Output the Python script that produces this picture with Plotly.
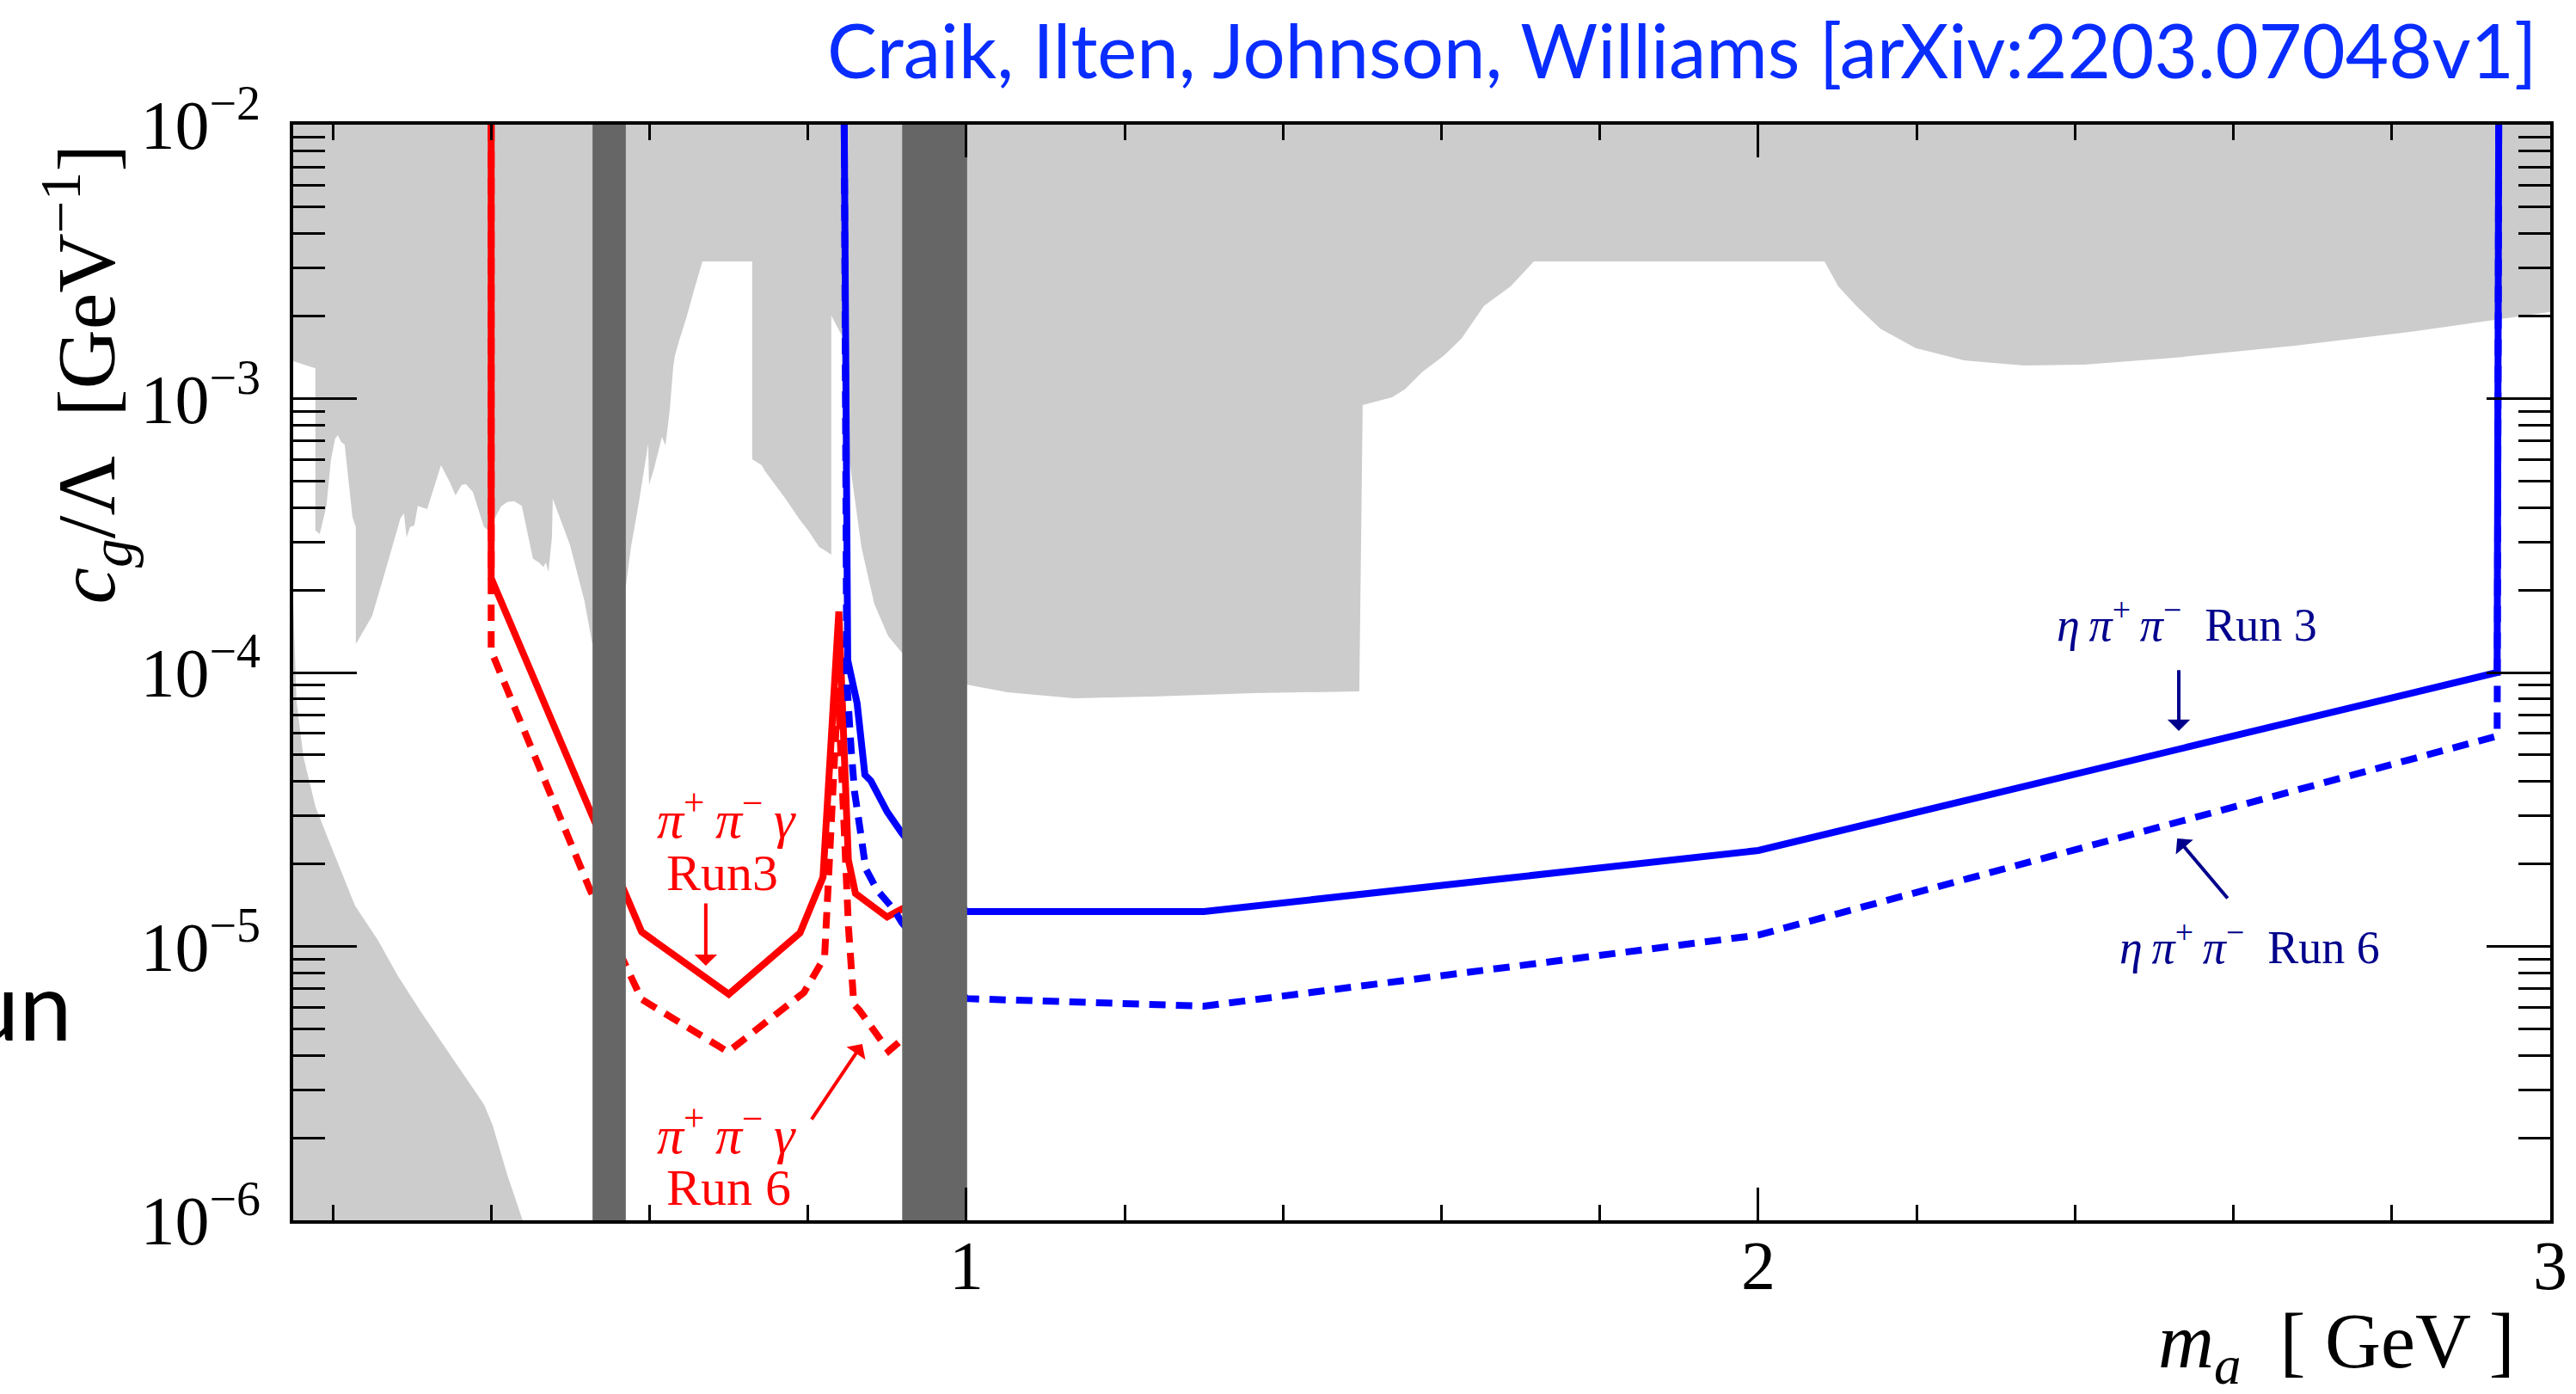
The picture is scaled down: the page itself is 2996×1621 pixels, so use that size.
import plotly.graph_objects as go

# ---------------- data ----------------
# Lower edge of the existing exclusion (upper shaded region), left to right
excl_m = [0.150, 0.178, 0.178, 0.1835, 0.192, 0.1976, 0.203, 0.2063, 0.2106, 0.215,
          0.2248, 0.2291, 0.2291, 0.2497, 0.2682, 0.2856, 0.2899, 0.2932, 0.2975, 0.303,
          0.3073, 0.3192, 0.3366, 0.3474, 0.355, 0.3626, 0.3681, 0.3768, 0.3909, 0.3963,
          0.4039, 0.4126, 0.4202, 0.4289, 0.4387, 0.4528, 0.4604, 0.4658, 0.4691, 0.4723,
          0.4767, 0.4778, 0.4995, 0.5179, 0.5277, 0.570, 0.5765, 0.5863, 0.5983, 0.5993,
          0.6059, 0.6124, 0.6156, 0.620, 0.6254, 0.6298, 0.6319, 0.6374, 0.6471, 0.6569,
          0.6667, 0.7296, 0.7296, 0.7416, 0.7459, 0.7709, 0.7894, 0.8002, 0.8143, 0.8187,
          0.8295, 0.8295, 0.8404, 0.8469, 0.8500, 0.8523, 0.8578, 0.8675, 0.8838, 0.9012,
          0.9186, 1.000, 1.0521, 1.1357, 1.2334, 1.3626, 1.4962, 1.5005, 1.5375, 1.5537,
          1.5755, 1.6037, 1.6254, 1.6536, 1.6873, 1.7166, 2.0836, 2.101, 2.1238, 2.1542,
          2.1987, 2.2595, 2.3355, 2.4115, 2.5255, 2.6775, 2.8284, 3.000]
excl_c = [1.37e-3, 1.29e-3, 3.30e-4, 3.20e-4, 4.06e-4, 5.96e-4, 7.14e-4, 7.36e-4, 6.94e-4, 6.79e-4,
          3.70e-4, 3.40e-4, 1.27e-4, 1.61e-4, 2.45e-4, 3.67e-4, 3.81e-4, 3.11e-4, 3.40e-4, 3.44e-4,
          4.06e-4, 3.95e-4, 5.71e-4, 4.98e-4, 4.43e-4, 4.84e-4, 4.87e-4, 4.56e-4, 3.40e-4, 3.30e-4,
          3.62e-4, 4.04e-4, 4.19e-4, 4.22e-4, 4.06e-4, 2.60e-4, 2.52e-4, 2.43e-4, 2.52e-4, 2.33e-4,
          3.11e-4, 4.31e-4, 2.92e-4, 1.82e-4, 1.27e-4, 2.06e-4, 2.87e-4, 4.15e-4, 6.84e-4, 4.84e-4,
          5.59e-4, 6.74e-4, 7.25e-4, 6.74e-4, 9.01e-4, 1.30e-3, 1.43e-3, 1.63e-3, 2.00e-3, 2.53e-3,
          3.17e-3, 3.17e-3, 6.01e-4, 5.71e-4, 5.43e-4, 4.34e-4, 3.62e-4, 3.30e-4, 2.87e-4, 2.82e-4,
          2.69e-4, 2.01e-3, 1.75e-3, 1.64e-3, 7.0e-4, 6.0e-4, 4.63e-4, 2.87e-4, 1.78e-4, 1.36e-4,
          1.18e-4, 9.04e-5, 8.47e-5, 8.05e-5, 8.17e-5, 8.41e-5, 8.53e-5, 9.47e-4, 1.01e-3, 1.08e-3,
          1.25e-3, 1.44e-3, 1.66e-3, 2.18e-3, 2.57e-3, 3.17e-3, 3.17e-3, 2.57e-3, 2.18e-3, 1.80e-3,
          1.53e-3, 1.38e-3, 1.32e-3, 1.33e-3, 1.41e-3, 1.56e-3, 1.76e-3, 2.07e-3]

# Exclusion in the lower-left corner (upper-right edge, top to bottom)
low_m = [0.150, 0.1542, 0.1629, 0.1781, 0.1922, 0.2172, 0.228, 0.2573, 0.2823, 0.3116,
         0.3474, 0.3909, 0.4017, 0.4202, 0.4397, 0.150]
low_c = [1.81e-4, 7.88e-5, 4.92e-5, 3.24e-5, 2.55e-5, 1.68e-5, 1.41e-5, 1.05e-5, 7.79e-6, 5.75e-6,
         4.04e-6, 2.65e-6, 2.23e-6, 1.47e-6, 1.0e-6, 1.0e-6]

# Vetoed mass windows around the eta and eta' masses [GeV]
veto_lo = [0.528, 0.919]
veto_hi = [0.570, 1.001]

# pi+ pi- gamma projections
ppg_run3_m = [0.40, 0.40, 0.59, 0.70, 0.79, 0.819, 0.839, 0.851, 0.860, 0.90, 0.9186, 0.935]
ppg_run3_c = [1e-2, 2.21e-4, 1.13e-5, 6.69e-6, 1.12e-5, 1.79e-5, 1.67e-4, 2.07e-5, 1.56e-5, 1.28e-5, 1.37e-5, 1.42e-5]
ppg_run6_m = [0.40, 0.40, 0.5244, 0.59, 0.699, 0.795, 0.821, 0.825, 0.838, 0.8512, 0.858, 0.865, 0.902, 0.9186, 0.935]
ppg_run6_c = [1e-2, 1.20e-4, 1.62e-5, 6.41e-6, 4.12e-6, 6.79e-6, 9.14e-6, 1.49e-5, 8.8e-5, 1.17e-5, 6.14e-6, 5.84e-6, 4.15e-6, 4.56e-6, 4.9e-6]

# eta pi+ pi- projections
epp_run3_m = [0.8458, 0.8502, 0.8621, 0.8719, 0.8795, 0.90, 0.9186, 1.0, 1.30, 2.0, 2.933, 2.935]
epp_run3_c = [1e-2, 1.11e-4, 7.71e-5, 4.23e-5, 4.02e-5, 3.10e-5, 2.59e-5, 1.34e-5, 1.34e-5, 2.24e-5, 1.0e-4, 1e-2]
epp_run6_m = [0.8458, 0.849, 0.8545, 0.8589, 0.8664, 0.873, 0.8871, 0.9088, 0.9186, 1.0, 1.30, 2.0, 2.933, 2.935]
epp_run6_c = [1e-2, 9.44e-5, 5.26e-5, 3.66e-5, 2.61e-5, 1.92e-5, 1.61e-5, 1.36e-5, 1.22e-5, 6.45e-6, 6.05e-6, 1.10e-5, 5.86e-5, 1e-2]

# axis ticks
x_major = [1, 2, 3]
x_minor = [0.2, 0.4, 0.6, 0.8, 1.2, 1.4, 1.6, 1.8, 2.2, 2.4, 2.6, 2.8]
y_major = [1e-6, 1e-5, 1e-4, 1e-3, 1e-2]
y_major_text = ["10<sup>\u22126</sup>", "10<sup>\u22125</sup>", "10<sup>\u22124</sup>",
                "10<sup>\u22123</sup>", "10<sup>\u22122</sup>"]
y_minor = [k * 10.0 ** e for e in range(-6, -2) for k in range(2, 10)]

# ---------------- styling ----------------
RED = "#ff0000"
BLUE = "#0000ff"
NAVY = "#00008c"
LIGHT = "#cccccc"
DARK = "#666666"
SERIF = "Liberation Serif"
YMIN, YMAX = 1e-6, 1e-2
DASH = "19px,12px"
LW = 8

fig = go.Figure()

# shaded exclusions
fig.add_trace(go.Scatter(x=excl_m + [3.0, 0.15], y=excl_c + [YMAX, YMAX], mode="lines",
                         fill="toself", fillcolor=LIGHT, line=dict(width=0),
                         hoverinfo="skip", showlegend=False))
fig.add_trace(go.Scatter(x=low_m, y=low_c, mode="lines", fill="toself", fillcolor=LIGHT,
                         line=dict(width=0), hoverinfo="skip", showlegend=False))

# projection curves
for xs, ys, col, dash in [(ppg_run6_m, ppg_run6_c, RED, DASH),
                          (ppg_run3_m, ppg_run3_c, RED, "solid"),
                          (epp_run6_m, epp_run6_c, BLUE, DASH),
                          (epp_run3_m, epp_run3_c, BLUE, "solid")]:
    fig.add_trace(go.Scatter(x=xs, y=ys, mode="lines",
                             line=dict(color=col, width=LW, dash=dash),
                             hoverinfo="skip", showlegend=False))

# vetoed windows drawn over everything
for lo, hi in zip(veto_lo, veto_hi):
    fig.add_trace(go.Scatter(x=[lo, hi, hi, lo, lo], y=[YMIN, YMIN, YMAX, YMAX, YMIN],
                             mode="lines", fill="toself", fillcolor=DARK, line=dict(width=0),
                             hoverinfo="skip", showlegend=False))

axis_common = dict(showline=True, linewidth=4, linecolor="black", mirror="allticks",
                   ticks="inside", tickcolor="black", tickwidth=3, showgrid=False,
                   zeroline=False, tickfont=dict(family=SERIF, size=80, color="black"))

fig.update_layout(
    width=2996, height=1621,
    margin=dict(l=341, r=30, t=145, b=202),
    paper_bgcolor="white", plot_bgcolor="white",
    xaxis=dict(range=[0.15, 3.0], tickmode="array", tickvals=x_major, showticklabels=False,
               ticklen=38,
               minor=dict(tickmode="array", tickvals=x_minor, ticks="inside", ticklen=18,
                          tickwidth=3, tickcolor="black", showgrid=False),
               **axis_common),
    yaxis=dict(type="log", range=[-6, -2], tickmode="array", tickvals=y_major,
               ticktext=y_major_text, ticklen=74, ticklabelstandoff=18,
               minor=dict(tickmode="array", tickvals=y_minor, ticks="inside", ticklen=37,
                          tickwidth=3, tickcolor="black", showgrid=False),
               **axis_common),
    showlegend=False,
)

PI = "<i>\u03c0</i>"
ppg_label = PI + "<sup>+</sup>\u2009" + PI + "<sup>\u2212</sup>\u2009<i>\u03b3</i>"
epp_label = "<i>\u03b7</i>\u2009" + PI + "<sup>+</sup>\u2009" + PI + "<sup>\u2212</sup>\u2002Run "

annotations = [
    # header
    dict(text="Craik, Ilten, Johnson, Williams [arXiv:2203.07048v1]", xref="paper", yref="paper",
         x=0.995, y=1.069, xanchor="right", yanchor="middle", showarrow=False,
         font=dict(family="Lato", size=87, color="#0a2dff")),
    dict(text="un", xref="paper", yref="paper", x=-0.0971, y=0.198, xanchor="right",
         yanchor="middle", showarrow=False, font=dict(family="Lato", size=110, color="black")),
    # axis titles
    dict(text="<i>c</i><sub><i>g</i></sub>/\u039b  [GeV<sup>\u22121</sup>]", xref="paper", yref="paper",
         x=-0.0918, y=0.772, textangle=-90, xanchor="center", yanchor="middle", showarrow=False,
         font=dict(family=SERIF, size=96, color="black")),
    dict(text="<i>m</i><sub><i>a</i></sub>  [ GeV ]", xref="paper", yref="paper",
         x=0.9055, y=-0.116, xanchor="center", yanchor="middle", showarrow=False,
         font=dict(family=SERIF, size=90, color="black")),
    # curve labels
    dict(text=ppg_label, x=0.697, y=-4.521, showarrow=False,
         font=dict(family=SERIF, size=62, color=RED)),
    dict(text="Run3", x=0.692, y=-4.732, showarrow=False, font=dict(family=SERIF, size=60, color=RED)),
    dict(text=ppg_label, x=0.697, y=-5.672, showarrow=False,
         font=dict(family=SERIF, size=62, color=RED)),
    dict(text="Run 6", x=0.700, y=-5.880, showarrow=False, font=dict(family=SERIF, size=60, color=RED)),
    dict(text=epp_label + "3", x=2.541, y=-3.812, showarrow=False,
         font=dict(family=SERIF, size=54, color=NAVY)),
    dict(text=epp_label + "6", x=2.620, y=-4.989, showarrow=False,
         font=dict(family=SERIF, size=54, color=NAVY)),
]

# x tick labels
for v in x_major:
    annotations.append(dict(text=str(v), x=v, xref="x", yref="paper", y=-0.0416,
                            xanchor="center", yanchor="middle", showarrow=False,
                            font=dict(family=SERIF, size=80, color="black")))

# label arrows: (head_m, head_logc, tail_m, tail_logc, colour)
arrows = [(0.671, -5.071, 0.671, -4.838, RED),
          (0.8686, -5.356, 0.8035, -5.636, RED),
          (2.531, -4.2135, 2.531, -3.987, NAVY),
          (2.529, -4.606, 2.594, -4.829, NAVY)]
for hx, hy, tx, ty, col in arrows:
    annotations.append(dict(text="", x=hx, y=hy, ax=tx, ay=ty, axref="x", ayref="y",
                            showarrow=True, arrowhead=1, arrowsize=1.1, arrowwidth=4,
                            arrowcolor=col))

fig.update_layout(annotations=annotations)
fig.write_html("out.html")
